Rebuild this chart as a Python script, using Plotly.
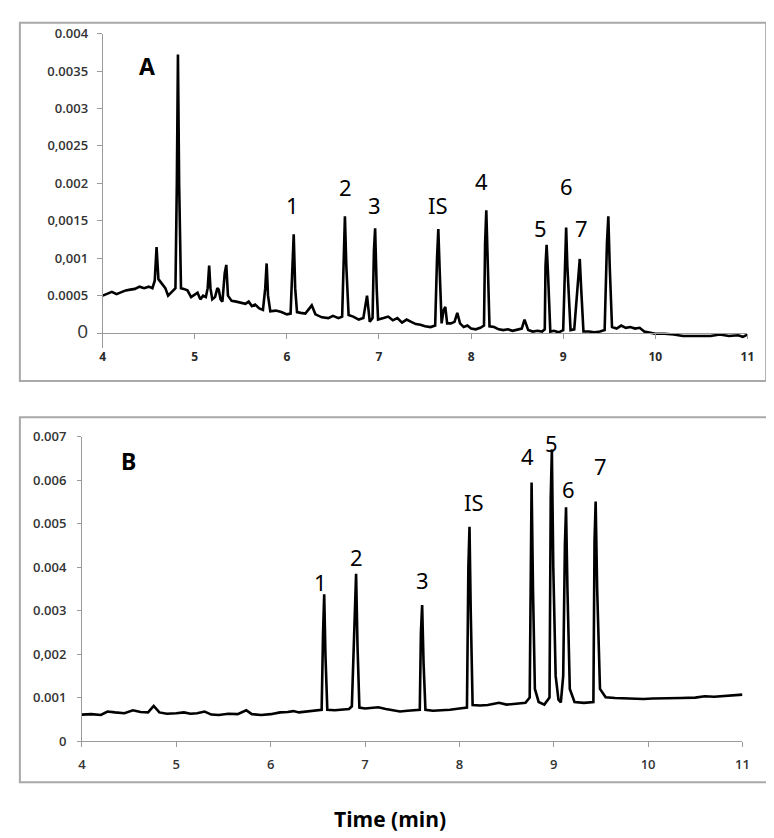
import plotly.graph_objects as go

W, H = 774, 838

# ---------------- Data ----------------
A_time = [4.00, 4.05, 4.10, 4.15, 4.20, 4.25, 4.30, 4.35, 4.40, 4.45, 4.50, 4.54, 4.565, 4.585, 4.605,
          4.64, 4.68, 4.71, 4.75, 4.79, 4.805, 4.817, 4.83, 4.85, 4.88, 4.92, 4.96, 5.00, 5.03, 5.06,
          5.09, 5.12, 5.14, 5.156, 5.17, 5.19, 5.22, 5.245, 5.26, 5.28, 5.30, 5.325, 5.342, 5.36, 5.40,
          5.45, 5.50, 5.55, 5.585, 5.62, 5.655, 5.70, 5.74, 5.765, 5.78, 5.795, 5.82, 5.88, 5.94, 6.00,
          6.04, 6.06, 6.074, 6.09, 6.11, 6.15, 6.20, 6.27, 6.31, 6.38, 6.45, 6.50, 6.56, 6.60, 6.617,
          6.63, 6.645, 6.67, 6.72, 6.78, 6.83, 6.87, 6.90, 6.93, 6.945, 6.958, 6.975, 6.99, 7.05, 7.10,
          7.15, 7.20, 7.25, 7.30, 7.35, 7.40, 7.45, 7.50, 7.56, 7.61, 7.630, 7.644, 7.66, 7.68, 7.70,
          7.72, 7.74, 7.78, 7.82, 7.85, 7.88, 7.92, 7.96, 8.00, 8.05, 8.10, 8.14, 8.152, 8.165, 8.18,
          8.20, 8.25, 8.30, 8.35, 8.40, 8.45, 8.50, 8.55, 8.58, 8.62, 8.67, 8.72, 8.77, 8.80, 8.808,
          8.82, 8.835, 8.86, 8.90, 8.95, 9.00, 9.02, 9.032, 9.045, 9.08, 9.12, 9.165, 9.18, 9.195, 9.22,
          9.28, 9.34, 9.40, 9.45, 9.475, 9.49, 9.505, 9.53, 9.58, 9.63, 9.68, 9.73, 9.78, 9.83, 9.88,
          9.95, 10.0, 10.1, 10.2, 10.3, 10.4, 10.5, 10.6, 10.7, 10.8, 10.9, 10.95, 11.0]
A_signal = [0.00050, 0.00052, 0.00055, 0.00052, 0.00055, 0.00057, 0.00058, 0.00059, 0.00062, 0.00060,
            0.00062, 0.00060, 0.00070, 0.00115, 0.00072, 0.00066, 0.00060, 0.00050, 0.00055, 0.00060,
            0.00200, 0.00372, 0.00200, 0.00060, 0.00059, 0.00057, 0.00048, 0.00052, 0.00054, 0.00045,
            0.00050, 0.00048, 0.00060, 0.00090, 0.00060, 0.00045, 0.00048, 0.00060, 0.00058, 0.00045,
            0.00042, 0.00080, 0.00091, 0.00050, 0.00043, 0.00042, 0.00040, 0.00039, 0.00042, 0.00036,
            0.00038, 0.00033, 0.00031, 0.00060, 0.00093, 0.00050, 0.00029, 0.00030, 0.00028, 0.00025,
            0.00026, 0.00100, 0.00132, 0.00060, 0.00028, 0.00027, 0.00026, 0.00037, 0.00025, 0.00021,
            0.00020, 0.00023, 0.00020, 0.00022, 0.00120, 0.00156, 0.00090, 0.00024, 0.00022, 0.00018,
            0.00020, 0.00050, 0.00015, 0.00020, 0.00110, 0.00140, 0.00060, 0.00018, 0.00020, 0.00022,
            0.00017, 0.00020, 0.00014, 0.00018, 0.00015, 0.00012, 0.00011, 0.00009, 0.00008, 0.00010,
            0.00100, 0.00139, 0.00080, 0.00013, 0.00030, 0.00035, 0.00013, 0.00013, 0.00015, 0.00027,
            0.00013, 0.00008, 0.00010, 0.00006, 0.00005, 0.00007, 0.00010, 0.00120, 0.00164, 0.00110,
            0.00009, 0.00008, 0.00005, 0.00004, 0.00005, 0.00003, 0.00004, 0.00006, 0.00018, 0.00004,
            0.00002, 0.00003, 0.00002, 0.00005, 0.00090, 0.00118, 0.00080, 0.00002, 0.00003, 0.00001,
            0.00004, 0.00110, 0.00141, 0.00090, 0.00004, 0.00005, 0.00070, 0.00099, 0.00060, 0.00002,
            0.00002, 0.00001, 0.00002, 0.00004, 0.00120, 0.00156, 0.00090, 0.00008, 0.00006, 0.00010,
            0.00007, 0.00008, 0.00006, 0.00007, 0.00002, 0.00000, -0.00001, -0.00001, -0.00002, -0.00004,
            -0.00004, -0.00003, -0.00004, -0.00002, -0.00004, -0.00003, -0.00005, -0.00002]

B_time = [4.00, 4.10, 4.20, 4.27, 4.35, 4.45, 4.54, 4.62, 4.70, 4.76, 4.82, 4.90, 5.00, 5.08, 5.15,
          5.22, 5.30, 5.37, 5.45, 5.55, 5.65, 5.74, 5.80, 5.90, 6.00, 6.10, 6.18, 6.24, 6.30, 6.40,
          6.48, 6.54, 6.555, 6.567, 6.58, 6.60, 6.68, 6.76, 6.83, 6.86, 6.89, 6.905, 6.92, 6.94, 7.00,
          7.07, 7.14, 7.22, 7.30, 7.37, 7.45, 7.52, 7.58, 7.592, 7.605, 7.62, 7.64, 7.72, 7.80, 7.90,
          8.00, 8.08, 8.095, 8.107, 8.12, 8.14, 8.22, 8.30, 8.42, 8.50, 8.60, 8.70, 8.745, 8.755, 8.765,
          8.78, 8.80, 8.84, 8.90, 8.955, 8.968, 8.98, 8.995, 9.02, 9.05, 9.075, 9.10, 9.118, 9.13, 9.145,
          9.17, 9.22, 9.32, 9.42, 9.432, 9.444, 9.46, 9.49, 9.55, 9.65, 9.75, 9.85, 9.95, 10.05, 10.2,
          10.35, 10.5, 10.6, 10.7, 10.8, 10.9, 11.0]
B_signal = [0.00061, 0.00062, 0.00060, 0.00068, 0.00066, 0.00064, 0.00071, 0.00067, 0.00066, 0.00081,
            0.00066, 0.00063, 0.00064, 0.00066, 0.00063, 0.00064, 0.00068, 0.00061, 0.00060, 0.00063,
            0.00062, 0.00071, 0.00062, 0.00060, 0.00062, 0.00066, 0.00067, 0.00069, 0.00066, 0.00068,
            0.00070, 0.00072, 0.00250, 0.00338, 0.00200, 0.00072, 0.00071, 0.00072, 0.00074, 0.00080,
            0.00300, 0.00385, 0.00220, 0.00077, 0.00075, 0.00077, 0.00078, 0.00074, 0.00071, 0.00068,
            0.00070, 0.00071, 0.00072, 0.00250, 0.00313, 0.00180, 0.00072, 0.00070, 0.00071, 0.00072,
            0.00075, 0.00077, 0.00400, 0.00493, 0.00300, 0.00083, 0.00082, 0.00083, 0.00088, 0.00084,
            0.00086, 0.00088, 0.00100, 0.00500, 0.00595, 0.00350, 0.00120, 0.00090, 0.00084, 0.00100,
            0.00560, 0.00671, 0.00400, 0.00150, 0.00095, 0.00089, 0.00150, 0.00450, 0.00538, 0.00350,
            0.00120, 0.00090, 0.00088, 0.00090, 0.00460, 0.00551, 0.00350, 0.00120, 0.00101, 0.00099,
            0.00098, 0.00098, 0.00097, 0.00098, 0.00098, 0.00099, 0.00100, 0.00103, 0.00102, 0.00104,
            0.00105, 0.00107]

A_labels = ["1", "2", "3", "IS", "4", "5", "6", "7"]
A_label_t = [6.056, 6.634, 6.955, 7.64, 8.11, 8.754, 9.04, 9.20]
A_label_y = [0.00171, 0.00195, 0.00171, 0.00171, 0.00203, 0.00140, 0.00196, 0.00140]

B_labels = ["1", "2", "3", "IS", "4", "5", "6", "7"]
B_label_t = [6.532, 6.905, 7.605, 8.152, 8.726, 8.971, 9.155, 9.493]
B_label_y = [0.00365, 0.00424, 0.00371, 0.00551, 0.00656, 0.00686, 0.00581, 0.00632]

A_yticks = [0, 0.0005, 0.001, 0.0015, 0.002, 0.0025, 0.003, 0.0035, 0.004]
A_yticktext = ['<span style="font-size:19px;font-weight:normal">0</span>', "0.0005", "0,001", "0,0015",
               "0.002", "0,0025", "0.003", "0.0035", "0.004"]
B_yticks = [0, 0.001, 0.002, 0.003, 0.004, 0.005, 0.006, 0.007]
B_yticktext = ["0", "0.001", "0,002", "0.003", "0.004", "0.005", "0.006", "0.007"]
x_ticks = [4, 5, 6, 7, 8, 9, 10, 11]

# ---------------- Layout geometry ----------------
A_yrange = [-0.0002, 0.004]
A_ydom = [1 - 338.3 / H, 1 - 17 / H]
A_xdom = [92 / W, 746 / W]
B_yrange = [0, 0.007]
B_ydom = [1 - 740 / H, 1 - 429 / H]
B_xdom = [71 / W, 741 / W]
A_xpos = A_ydom[0] + (0 - A_yrange[0]) / (A_yrange[1] - A_yrange[0]) * (A_ydom[1] - A_ydom[0])

AX = "#9a9a9a"
TICKFONT = dict(family="Open Sans", size=13, color="#333333", weight=600)

fig = go.Figure()
fig.add_trace(go.Scatter(x=A_time, y=A_signal, mode="lines", xaxis="x", yaxis="y",
                         line=dict(color="black", width=2.6), showlegend=False, hoverinfo="skip"))
fig.add_trace(go.Scatter(x=B_time, y=B_signal, mode="lines", xaxis="x2", yaxis="y2",
                         line=dict(color="black", width=2.6), showlegend=False, hoverinfo="skip"))

fig.update_layout(
    width=W, height=H, margin=dict(l=0, r=0, t=0, b=0),
    paper_bgcolor="white", plot_bgcolor="white", showlegend=False,
    xaxis=dict(domain=A_xdom, range=[4, 11], anchor="free", position=A_xpos,
               tickvals=x_ticks, ticktext=[str(v) for v in x_ticks],
               showline=True, linecolor=AX, linewidth=1, ticks="outside", ticklen=5, tickcolor=AX,
               showgrid=False, zeroline=False, ticklabelstandoff=8,
               tickfont=dict(family="Open Sans", size=12, color="#2a2a2a", weight="bold")),
    yaxis=dict(domain=A_ydom, range=A_yrange, anchor="x",
               tickvals=A_yticks, ticktext=A_yticktext,
               showline=True, linecolor=AX, linewidth=1, ticks="outside", ticklen=5, tickcolor=AX,
               showgrid=False, zeroline=False, ticklabelstandoff=6, tickfont=TICKFONT),
    xaxis2=dict(domain=B_xdom, range=[4, 11], anchor="y2",
                tickvals=x_ticks, ticktext=[str(v) for v in x_ticks],
                showline=True, linecolor=AX, linewidth=1, ticks="outside", ticklen=5, tickcolor=AX,
                showgrid=False, zeroline=False, ticklabelstandoff=6,
                tickfont=dict(family="Open Sans", size=13, color="#333333", weight=600)),
    yaxis2=dict(domain=B_ydom, range=B_yrange, anchor="x2",
                tickvals=B_yticks, ticktext=B_yticktext,
                showline=True, linecolor=AX, linewidth=1, ticks="outside", ticklen=4, tickcolor=AX,
                showgrid=False, zeroline=False, ticklabelstandoff=8, tickfont=TICKFONT),
)

# panel frames
fig.add_shape(type="rect", xref="paper", yref="paper", x0=8 / W, x1=765 / W, y0=1 - 372 / H, y1=1 - 6 / H,
              line=dict(color="#a9a9a9", width=2), fillcolor="rgba(0,0,0,0)", layer="below")
fig.add_shape(type="rect", xref="paper", yref="paper", x0=8 / W, x1=768 / W, y0=1 - 782 / H, y1=1 - 409 / H,
              line=dict(color="#a9a9a9", width=2), fillcolor="rgba(0,0,0,0)", layer="below")

LBL = dict(family="Noto Sans", size=22, color="black")
for t, y, s in zip(A_label_t, A_label_y, A_labels):
    fig.add_annotation(x=t, y=y, xref="x", yref="y", text=s, showarrow=False, font=LBL,
                       xanchor="center", yanchor="middle")
for t, y, s in zip(B_label_t, B_label_y, B_labels):
    fig.add_annotation(x=t, y=y, xref="x2", yref="y2", text=s, showarrow=False, font=LBL,
                       xanchor="center", yanchor="middle")

fig.add_annotation(x=4.48, y=0.00357, xref="x", yref="y", text="<b>A</b>", showarrow=False,
                   font=dict(family="Noto Sans", size=23, color="black"), xanchor="center", yanchor="middle")
fig.add_annotation(x=4.494, y=0.00644, xref="x2", yref="y2", text="<b>B</b>", showarrow=False,
                   font=dict(family="Noto Sans", size=23, color="black"), xanchor="center", yanchor="middle")
fig.add_annotation(x=383 / W, y=1 - 820 / H, xref="paper", yref="paper", text="<b>Time (min)</b>",
                   showarrow=False, font=dict(family="Open Sans", size=21, color="black"),
                   xanchor="center", yanchor="middle")

fig.write_html("out.html")
